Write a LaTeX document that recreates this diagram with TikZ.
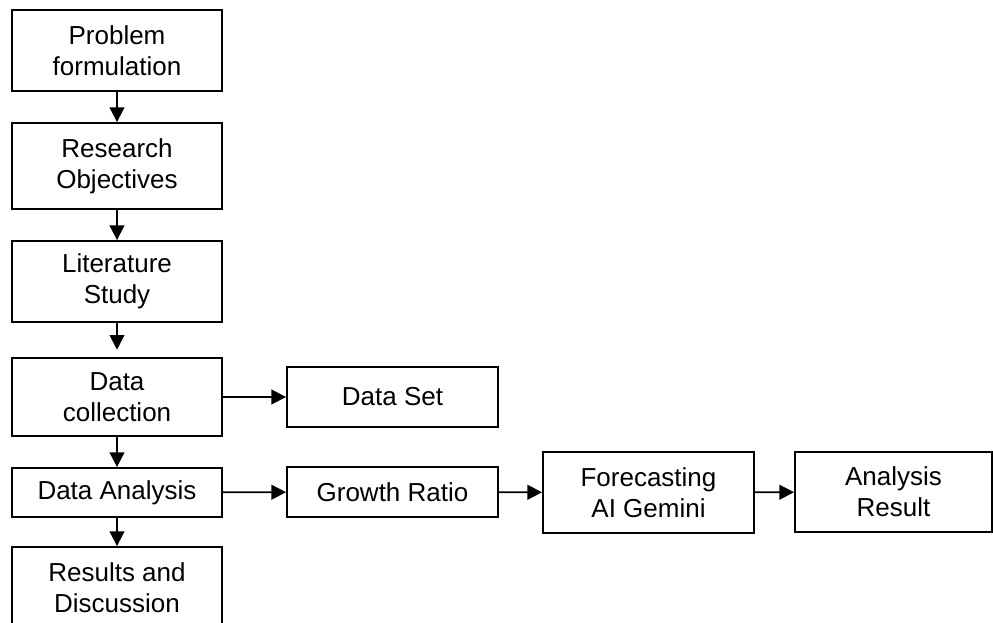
\documentclass[tikz,border=0pt]{standalone}
\usepackage{fontspec}
\setmainfont{Liberation Sans}
\usetikzlibrary{arrows.meta}

% place a box by its left, top, right and bottom edges (in px units)
\newcommand{\flowbox}[6]{%
  \node[stepbox, minimum width={(#4-#2)*0.75pt}, minimum height={(#5-#3)*0.75pt}]
    (#1) at ({(#2+#4)/2},{(#3+#5)/2}) {#6};}

\begin{document}
\begin{tikzpicture}[x=0.75pt, y=-0.75pt,
  stepbox/.style={draw, line width=1.4pt, rectangle, align=center, inner sep=0pt,
    font=\fontsize{19.5pt}{23.3pt}\selectfont},
  flow/.style={line width=1.4pt, -{Triangle[length=11pt, width=11pt]}}]
  \useasboundingbox (0,0) rectangle (993,623);
  \clip (0,0) rectangle (993,623);
  \fill[white] (0,0) rectangle (993,623);

  % main column
  \flowbox{prob}{12}{10}{222}{91}{Problem\\formulation}
  \flowbox{obj}{12}{123}{222}{209}{Research\\Objectives}
  \flowbox{lit}{12}{241}{222}{322}{Literature\\Study}
  \flowbox{coll}{12}{358}{222}{436}{Data\\collection}
  \flowbox{anal}{12}{468}{222}{517}{Data Analysis}
  \flowbox{res}{12}{547}{222}{629}{Results and\\Discussion}

  % side branches
  \flowbox{set}{287}{367}{498}{427}{Data Set}
  \flowbox{grow}{287}{467}{498}{517}{Growth Ratio}
  \flowbox{fore}{543}{452}{754}{533}{Forecasting\\AI Gemini}
  \flowbox{out}{795}{452}{992}{532}{Analysis\\Result}

  % connectors
  \draw[flow] (prob) -- (obj);
  \draw[flow] (obj) -- (lit);
  \draw[flow, shorten >=5.5pt] (lit) -- (coll);
  \draw[flow] (coll) -- (anal);
  \draw[flow] (anal) -- (res);
  \draw[flow] (coll) -- (set);
  \draw[flow] (anal) -- (grow);
  \draw[flow] (grow) -- (fore);
  \draw[flow] (fore) -- (out);
\end{tikzpicture}
\end{document}
